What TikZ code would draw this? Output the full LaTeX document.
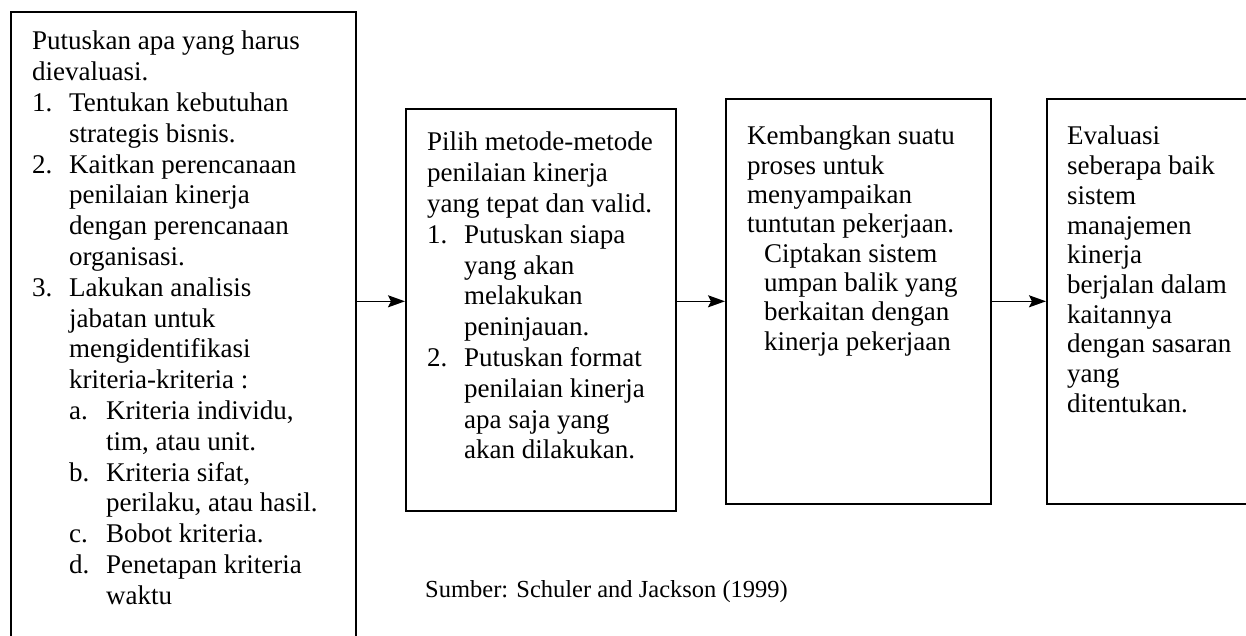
\documentclass[tikz,border=0pt]{standalone}
\usepackage{fontspec}
\setmainfont{Liberation Serif}
\usetikzlibrary{positioning,arrows.meta,calc}
\tikzset{
  >={Stealth[length=16pt,width=12pt]},
  stepbox/.style={draw=black,line width=1.6pt,inner sep=0pt,anchor=north west},
  boxtxt/.style={align=left,inner sep=0pt,font=\fontsize{27}{29.7}\selectfont},
  flow/.style={-{Stealth[length=17pt,width=12pt,inset=3pt]},line width=1.6pt},
  srclbl/.style={font=\fontsize{24.5}{28}\selectfont,inner sep=0pt,anchor=west},
}
\newcommand{\itemlbl}[1]{\makebox[37pt][l]{#1}}
\newcommand{\itemind}{\hspace*{37pt}}

\begin{document}
\begin{tikzpicture}[x=1pt,y=-1pt]
  \useasboundingbox (0,0) rectangle (1246,635);
  % the four boxes
  \node[stepbox,minimum width=345pt,minimum height=640pt] (b1) at (10,11) {};
  \node[stepbox,minimum width=270pt,minimum height=402pt] (b2) at (405,108) {};
  \node[stepbox,minimum width=265pt,minimum height=405pt] (b3) at (725,98) {};
  \node[stepbox,minimum width=260pt,minimum height=405pt] (b4) at (1046,98) {};
  % texts
  \node[boxtxt,font=\fontsize{27}{30.8}\selectfont,below right=20pt and 22pt of b1.north west] (t1) {%
    Putuskan apa yang harus\\
    dievaluasi.\\
    \itemlbl{1.}Tentukan kebutuhan\\
    \itemind strategis bisnis.\\
    \itemlbl{2.}Kaitkan perencanaan\\
    \itemind penilaian kinerja\\
    \itemind dengan perencanaan\\
    \itemind organisasi.\\
    \itemlbl{3.}Lakukan analisis\\
    \itemind jabatan untuk\\
    \itemind mengidentifikasi\\
    \itemind kriteria-kriteria :\\
    \itemind\itemlbl{a.}Kriteria individu,\\
    \itemind\itemind tim, atau unit.\\
    \itemind\itemlbl{b.}Kriteria sifat,\\
    \itemind\itemind perilaku, atau hasil.\\
    \itemind\itemlbl{c.}Bobot kriteria.\\
    \itemind\itemlbl{d.}Penetapan kriteria\\
    \itemind\itemind waktu};
  \node[boxtxt,font=\fontsize{27}{30.8}\selectfont,below right=24pt and 22pt of b2.north west] (t2) {%
    Pilih metode-metode\\
    penilaian kinerja\\
    yang tepat dan valid.\\
    \itemlbl{1.}Putuskan siapa\\
    \itemind yang akan\\
    \itemind melakukan\\
    \itemind peninjauan.\\
    \itemlbl{2.}Putuskan format\\
    \itemind penilaian kinerja\\
    \itemind apa saja yang\\
    \itemind akan dilakukan.};
  \node[boxtxt,font=\fontsize{27}{29.3}\selectfont,below right=28pt and 22pt of b3.north west] (t3) {%
    Kembangkan suatu\\
    proses untuk\\
    menyampaikan\\
    tuntutan pekerjaan.\\
    \hspace*{17pt}Ciptakan sistem\\
    \hspace*{17pt}umpan balik yang\\
    \hspace*{17pt}berkaitan dengan\\
    \hspace*{17pt}kinerja pekerjaan};
  \node[boxtxt,below right=28pt and 21pt of b4.north west] (t4) {%
    Evaluasi\\
    seberapa baik\\
    sistem\\
    manajemen\\
    kinerja\\
    berjalan dalam\\
    kaitannya\\
    dengan sasaran\\
    yang\\
    ditentukan.};
  % arrows
  \path (b1.east |- b3.west) edge[flow] (b2.west |- b3.west)
        (b2.east |- b3.west) edge[flow] (b3.west)
        (b3.east) edge[flow] (b4.west);
  \node[srclbl] (src) at (425,592) {Sumber: Schuler and Jackson (1999)};
\end{tikzpicture}
\end{document}
